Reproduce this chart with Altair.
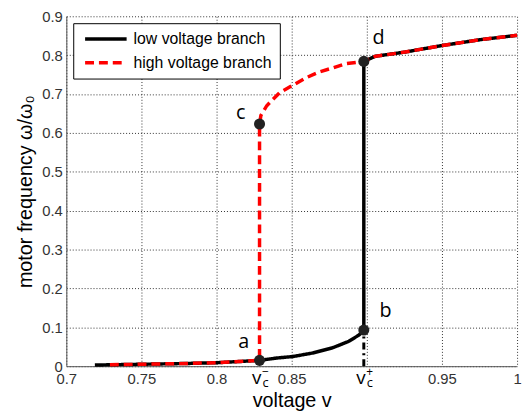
import altair as alt
import pandas as pd

# ---- data ----
low_v = [0.719, 0.75, 0.78, 0.80, 0.815, 0.8286, 0.840, 0.851, 0.864, 0.877, 0.888, 0.8947, 0.898,
         0.898, 0.9055, 0.9254, 0.9505, 0.9758, 1.0]
low_w = [0.003, 0.005, 0.007, 0.009, 0.012, 0.015, 0.021, 0.025, 0.034, 0.047, 0.064, 0.080, 0.093,
         0.784, 0.797, 0.808, 0.825, 0.840, 0.851]

high_v = [0.729, 0.75, 0.78, 0.80, 0.815, 0.8286, 0.8286, 0.8295, 0.8334, 0.8421, 0.8509, 0.8597,
          0.8684, 0.8772, 0.8859, 0.898, 0.9055, 0.9254, 0.9505, 0.9758, 1.0]
high_w = [0.004, 0.005, 0.007, 0.009, 0.012, 0.015, 0.623, 0.645, 0.670, 0.704, 0.723, 0.742,
          0.757, 0.767, 0.778, 0.784, 0.797, 0.808, 0.825, 0.840, 0.851]

series = ["low voltage branch", "high voltage branch"]
colors = ["#000000", "#ff0000"]

pt_labels = ["a", "b", "c", "d"]
pt_v = [0.8286, 0.898, 0.8286, 0.898]
pt_w = [0.015, 0.093, 0.623, 0.784]

vc_v = [0.8286, 0.898]
vc_sign = ["\u2212", "+"]

x_ticks = [0.7, 0.75, 0.8, 0.85, 0.9, 0.95, 1.0]
y_ticks = [0, 0.1, 0.2, 0.3, 0.4, 0.5, 0.6, 0.7, 0.8, 0.9]

# ---- tables ----
rows = []
for i, (v, w) in enumerate(zip(low_v, low_w)):
    rows.append({"v": v, "w": w, "branch": series[0], "i": i})
for i, (v, w) in enumerate(zip(high_v, high_w)):
    rows.append({"v": v, "w": w, "branch": series[1], "i": i})
lines_df = pd.DataFrame(rows)
pts_df = pd.DataFrame({"v": pt_v, "w": pt_w, "label": pt_labels})
vc_df = pd.DataFrame({"v": vc_v, "w": [0, 0], "sign": vc_sign})
drop_df = pd.DataFrame({"v": [pt_v[1]], "w": [0], "w2": [pt_w[1]]})

FONT = "Liberation Sans"
LBL_FONT = "Open Sans"

xscale = alt.Scale(domain=[0.7, 1.0], nice=False, zero=False)
yscale = alt.Scale(domain=[0, 0.9], nice=False)

xaxis = alt.Axis(values=x_ticks, title="voltage v",
                 labelExpr="abs(datum.value-0.9)<1e-6 ? '' : format(datum.value, '~g')",
                 labelOverlap=False, labelFlush=False)
yaxis = alt.Axis(values=y_ticks, title="motor frequency \u03c9/\u03c9\u2080",
                 format="~g", labelOverlap=False, labelFlush=False)

X = alt.X("v:Q", scale=xscale, axis=xaxis)
Y = alt.Y("w:Q", scale=yscale, axis=yaxis)

legend = alt.Legend(title=None, orient="none", legendX=7, legendY=7)

lines = alt.Chart(lines_df).mark_line(strokeWidth=3.5, strokeCap="butt").encode(
    x=X, y=Y,
    color=alt.Color("branch:N", scale=alt.Scale(domain=series, range=colors), legend=legend),
    strokeDash=alt.StrokeDash("branch:N", scale=alt.Scale(domain=series, range=[[1, 0], [9, 5]]),
                              legend=legend),
    order="i:Q",
)

drop = alt.Chart(drop_df).mark_rule(color="black", strokeWidth=3, strokeDash=[7, 4, 2, 4]).encode(
    x=X, y=Y, y2="w2:Q"
)

points = alt.Chart(pts_df).mark_point(filled=True, shape="circle", size=125, color="#222222",
                                      opacity=1).encode(x=X, y=Y)

offsets = {"a": (-16, -19), "b": (22, -19), "c": (-19, -11), "d": (15, -24)}
label_layers = []
for lab in pt_labels:
    dx, dy = offsets[lab]
    label_layers.append(
        alt.Chart(pts_df).transform_filter(alt.datum.label == lab).mark_text(
            font=LBL_FONT, fontSize=20, color="black", dx=dx, dy=dy, baseline="middle", align="center"
        ).encode(x=X, y=Y, text="label:N")
    )

vc_v_text = alt.Chart(vc_df).mark_text(font=LBL_FONT, fontSize=19, color="black", dx=-3, dy=18,
                                       baseline="alphabetic", align="center").encode(
    x=X, y=Y, text=alt.value("v"))
vc_c_text = alt.Chart(vc_df).mark_text(font=LBL_FONT, fontSize=13, color="black", dx=6, dy=21,
                                       baseline="alphabetic", align="center").encode(
    x=X, y=Y, text=alt.value("c"))
vc_s_text = alt.Chart(vc_df).mark_text(font=LBL_FONT, fontSize=12, color="black", dx=6, dy=10,
                                       baseline="alphabetic", align="center").encode(
    x=X, y=Y, text="sign:N")

chart = alt.layer(lines, drop, points, *label_layers, vc_v_text, vc_c_text, vc_s_text).properties(
    width=456, height=354,
    autosize=alt.AutoSizeParams(type="none"),
    padding={"left": 59, "top": 6, "right": 6, "bottom": 48},
    background="white",
).configure_view(stroke=None).configure_axis(
    grid=True, gridColor="#333333", gridDash=[1, 2], gridWidth=1, gridOpacity=1,
    domainColor="#555555", domainWidth=1, ticks=False,
    labelFont=FONT, labelFontSize=15, labelColor="#333333",
    titleFont=FONT, titleFontSize=20, titleFontWeight="normal", titleColor="black",
).configure_axisX(labelPadding=5, titlePadding=5).configure_axisY(labelPadding=4, titlePadding=6).configure_legend(
    fillColor="white", strokeColor="black", padding=8, symbolType="M-4.2,0H4.2", symbolSize=100,
    symbolStrokeWidth=3.5, symbolOffset=17, labelFont=FONT, labelFontSize=16, labelColor="black",
    labelOffset=20, rowPadding=8, cornerRadius=0,
)

chart.save("out.html", embed_options={"renderer": "svg", "actions": False})
